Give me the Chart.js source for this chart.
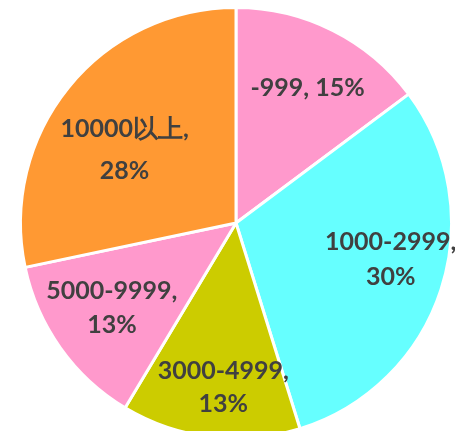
<!DOCTYPE html>
<html>
<head>
<meta charset="utf-8">
<script src="https://cdn.jsdelivr.net/npm/chart.js@4.4.1/dist/chart.umd.min.js"></script>
<style>
  html, body { margin: 0; padding: 0; background: #fff; overflow: hidden; }
  #wrap { position: relative; width: 455px; height: 446px; }
</style>
</head>
<body>
<div id="wrap"><canvas id="grafico"></canvas></div>
<script>
const categorias = ["-999", "1000-2999", "3000-4999", "5000-9999", "10000以上"];
const valores = [14.8, 30.4, 13.4, 13.1, 28.3];
const rotulos = ["-999, 15%", "1000-2999,|30%", "3000-4999,|13%", "5000-9999,|13%", "10000以上,|28%"];
const cores = ["#FF99CC", "#66FFFF", "#CCCC00", "#FF99CC", "#FF9933"];

// posicao dos rotulos: fracao do raio e ajuste em px
const ajustes = [
  { f: 0.71, dx: 3, dy: 2, lh: 0 },
  { f: 0.74, dx: 3, dy: -13, lh: 35 },
  { f: 0.77, dx: 7, dy: 0, lh: 33 },
  { f: 0.69, dx: -3, dy: -1, lh: 34 },
  { f: 0.63, dx: -6, dy: 12, lh: 42 }
];

const rotulosPlugin = {
  id: "rotulos",
  afterDatasetsDraw(chart) {
    const ctx = chart.ctx;
    const meta = chart.getDatasetMeta(0);
    ctx.save();
    ctx.font = "bold 25px Lato";
    ctx.fillStyle = "#404040";
    ctx.textAlign = "center";
    ctx.textBaseline = "middle";
    meta.data.forEach((arc, i) => {
      const a = (arc.startAngle + arc.endAngle) / 2;
      const aj = ajustes[i];
      const r = arc.outerRadius * aj.f;
      const x = arc.x + Math.cos(a) * r + aj.dx;
      const y = arc.y + Math.sin(a) * r + aj.dy;
      const linhas = rotulos[i].split("|");
      const y0 = y - (linhas.length - 1) * aj.lh / 2;
      linhas.forEach((t, k) => ctx.fillText(t, x, y0 + k * aj.lh));
    });
    ctx.restore();
  }
};

new Chart(document.getElementById("grafico").getContext("2d"), {
  type: "pie",
  data: {
    labels: categorias,
    datasets: [{
      data: valores,
      backgroundColor: cores,
      borderColor: "#ffffff",
      borderWidth: 3
    }]
  },
  options: {
    responsive: true,
    maintainAspectRatio: false,
    animation: false,
    layout: { padding: { left: 19, right: 2, top: 6, bottom: 6 } },
    plugins: {
      legend: { display: false },
      tooltip: { enabled: false }
    }
  },
  plugins: [rotulosPlugin]
});
</script>
</body>
</html>
